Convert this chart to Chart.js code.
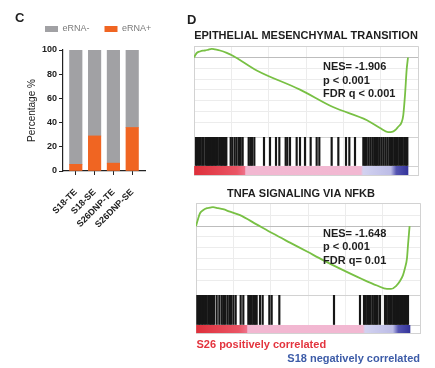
<!DOCTYPE html>
<html><head><meta charset="utf-8">
<script src="https://cdn.jsdelivr.net/npm/chart.js@4.4.1/dist/chart.umd.min.js"></script>
<style>
html,body{margin:0;padding:0;background:#fff;}
body{width:435px;height:368px;position:relative;overflow:hidden;font-family:"Liberation Sans",Arial,Helvetica,sans-serif;}
canvas{position:absolute;}
.t{position:absolute;white-space:nowrap;font-weight:bold;color:#1e1e1e;}
</style></head><body>
<canvas id="cBar" width="198" height="240" style="left:0;top:0"></canvas>
<canvas id="emtCurve" width="226" height="111" style="left:193px;top:27px"></canvas>
<canvas id="emtHits" width="226" height="31" style="left:193px;top:136px"></canvas>
<canvas id="emtRank" width="226" height="11" style="left:193px;top:165px"></canvas>
<canvas id="tnfaCurve" width="240" height="111" style="left:181px;top:185px"></canvas>
<canvas id="tnfaHits" width="226" height="32" style="left:195px;top:294px"></canvas>
<canvas id="tnfaRank" width="226" height="10" style="left:195px;top:324px"></canvas>

<div class="t" style="left:15px;top:11px;font-size:13px;line-height:13px;">C</div>
<div class="t" style="left:187px;top:12.5px;font-size:13px;line-height:13px;">D</div>
<div class="t" style="left:323px;top:60px;font-size:11px;line-height:13.5px;">NES= -1.906<br>p &lt; 0.001<br>FDR q &lt; 0.001</div>
<div class="t" style="left:323px;top:226.5px;font-size:11px;line-height:13.5px;">NES= -1.648<br>p &lt; 0.001<br>FDR q= 0.01</div>
<div class="t" style="left:196.5px;top:337.5px;font-size:11px;line-height:13px;color:#e3343e;">S26 positively correlated</div>
<div class="t" style="right:15px;top:351.5px;font-size:11px;line-height:13px;color:#3d5ca8;">S18 negatively correlated</div>

<script>
// ---------- Panel C data ----------
const categories = ['S18-TE', 'S18-SE', 'S26DNP-TE', 'S26DNP-SE'];
const ernaPos = [5.5, 29, 6.5, 36];
const ernaNeg = [94.5, 71, 93.5, 64];
const pctTicks = [0, 20, 40, 60, 80, 100];

// ---------- Panel D data ----------
const listLength = 26750;
const emtTitle = 'EPITHELIAL MESENCHYMAL TRANSITION';
const emtRank = [0, 190, 375, 750, 1125, 1375, 1750, 2210, 2625, 3250, 4090, 4910, 7840, 13250, 17375, 21625, 23250, 24250, 24750, 25125, 25500, 25960, 26160, 26375, 26590, 26750];
const emtES = [0, 0.026, 0.044, 0.056, 0.063, 0.065, 0.072, 0.081, 0.075, 0.065, 0.043, 0.014, -0.12, -0.298, -0.46, -0.583, -0.655, -0.692, -0.69, -0.676, -0.645, -0.6, -0.534, -0.349, -0.106, 0];
const emtHits = [250, 417, 625, 833, 1042, 1208, 1458, 1625, 1792, 1917, 2083, 2250, 2417, 2583, 2750, 2958, 3167, 3375, 3542, 3708, 3875, 4042,
  4583, 4792, 5083, 5333, 5625, 5833, 6083, 6833, 7042, 7250, 7542, 8750, 9500, 10250, 10667, 11458, 11667, 12000, 12833, 13250, 13875, 14583,
  15333, 15667, 17208, 18042, 19000, 19417, 20125,
  21167, 21375, 21583, 21833, 22083, 22333, 22542, 22750, 22958, 23167, 23417, 23667, 23917, 24167, 24417, 24625, 24833, 25042, 25250,
  25458, 25667, 25875, 26083, 26292, 26500, 26667];

const tnfaTitle = 'TNFA SIGNALING VIA NFKB';
const tnfaRank = [0, 250, 500, 875, 1375, 1750, 2125, 2750, 3375, 4250, 5500, 7625, 9625, 11750, 13875, 15875, 18000, 20875, 22625, 23875, 24375, 25000, 25500, 25875, 26125, 26375, 26500, 26700];
const tnfaES = [0, 0.065, 0.12, 0.148, 0.167, 0.171, 0.176, 0.167, 0.157, 0.134, 0.102, 0.014, -0.069, -0.153, -0.236, -0.315, -0.394, -0.495, -0.551, -0.583, -0.583, -0.556, -0.509, -0.454, -0.389, -0.296, -0.176, 0];
const tnfaHits = [167, 375, 542, 750, 917, 1125, 1333, 1542, 1750, 1917, 2083, 2250, 2583, 2917, 3208, 3417, 3625, 3917, 4167, 4375, 4667, 4958,
  5583, 5917, 6542, 6750, 6958, 7167, 7375, 7583, 8000, 8333, 9167, 9458, 10417, 17250, 20500,
  21000, 21208, 21417, 21625, 21833, 22083, 22292, 22500, 22708, 23000, 23625, 23833, 24042, 24250, 24458, 24667, 24833, 25000,
  25167, 25333, 25500, 25667, 25833, 26000, 26167, 26333, 26500];

// ---------- styles ----------
Chart.defaults.font.family = '"Liberation Sans", Arial, Helvetica, sans-serif';
const rankStops = [[0, '#de2f3a'], [0.2, '#ea5565'], [0.236, '#ee7088'], [0.242, '#f2b7d1'], [0.78, '#f2b8d2'], [0.79, '#d2d2f0'], [0.92, '#bcbce6'], [0.945, '#5555b2'], [1, '#34349a']];
const X_MAX = 28000;
const base = {responsive: false, animation: false, events: []};

// ---------- Panel C ----------
new Chart(document.getElementById('cBar'), {
  type: 'bar',
  data: {datasets: [
    {label: 'eRNA+', data: categories.map((c, i) => ({x: i, y: ernaPos[i]})), backgroundColor: '#f06522', barThickness: 12.5, grouped: false},
    {label: 'eRNA-', data: categories.map((c, i) => ({x: i, y: ernaNeg[i]})), backgroundColor: '#a1a1a4', barThickness: 12.5, grouped: false}
  ]},
  options: Object.assign({}, base, {
    layout: {padding: {left: 30, top: 9.5, right: 0, bottom: 0}},
    plugins: {
      legend: {display: true, position: 'top', align: 'start', reverse: true,
        labels: {boxWidth: 13, boxHeight: 6, padding: 15, color: '#7a7a7a', font: {size: 9}}},
      title: {display: true, text: '', weight: 500, padding: 0, font: {size: 6.5, lineHeight: 1}},
      tooltip: {enabled: false}
    },
    scales: {
      x: {type: 'linear', min: -0.68, max: 3.68, stacked: true, offset: false,
        afterBuildTicks: s => { s.ticks = categories.map((c, i) => ({value: i})); },
        ticks: {callback: v => categories[v], maxRotation: 45, minRotation: 45, autoSkip: false, color: '#222', font: {size: 9, weight: 'bold'}, padding: 12},
        grid: {display: true, drawOnChartArea: false, drawTicks: true, tickLength: 4, color: '#222', offset: false},
        border: {color: '#222', width: 1.2},
        afterFit: s => { s.height = 69; }},
      y: {min: 0, max: 100, stacked: true,
        afterBuildTicks: s => { s.ticks = pctTicks.map(v => ({value: v})); },
        ticks: {color: '#222', font: {size: 9, weight: 'bold'}, padding: 2},
        grid: {display: true, drawOnChartArea: false, drawTicks: true, tickLength: 4, color: '#222'},
        border: {color: '#222', width: 1.2},
        title: {display: true, text: 'Percentage %', color: '#222', font: {size: 10}, padding: {top: -4, bottom: 0}},
        afterFit: s => { s.width = 33; }},
      yRight: {position: 'right', display: true, min: 0, max: 100,
        ticks: {display: false}, grid: {display: false, drawTicks: false}, border: {display: false},
        afterFit: s => { s.width = 53; }}
    }
  })
});

// ---------- Panel D ----------
function gsea(ids, title, ranks, es, hits, ymin, ymax, yw, padBottom) {
  const gridColor = ctx => {
    const v = ctx.tick.value;
    if (Math.abs(v) < 1e-9) return '#bdbdbd';
    if (v === ymin || v === ymax) return '#d2d2d2';
    return '#ececec';
  };
  new Chart(document.getElementById(ids[0]), {
    type: 'line',
    data: {datasets: [{data: ranks.map((r, i) => ({x: r, y: es[i]})), borderColor: '#78c044', borderWidth: 1.8,
      pointRadius: 0, cubicInterpolationMode: 'monotone', fill: false}]},
    options: Object.assign({}, base, {
      layout: {padding: {left: 1, right: 1, top: 0, bottom: 1}},
      plugins: {legend: {display: false}, tooltip: {enabled: false},
        title: {display: true, text: title, color: '#1e1e1e', font: {size: 11, weight: 'bold', lineHeight: 1.2}, padding: {top: 2, bottom: padBottom}}},
      scales: {
        x: {type: 'linear', min: 0, max: X_MAX, ticks: {display: false, stepSize: 5000},
          grid: {color: ctx => (ctx.tick.value === 0 || ctx.tick.value === X_MAX) ? '#d2d2d2' : '#ececec', drawTicks: false}, border: {color: '#d2d2d2'}},
        y: {type: 'linear', min: ymin, max: ymax, ticks: {display: false, stepSize: 0.1},
          grid: {color: gridColor, drawTicks: false}, border: {color: '#d2d2d2'},
          afterFit: s => { s.width = yw; }}
      }
    })
  });
  new Chart(document.getElementById(ids[1]), {
    type: 'bar',
    data: {datasets: [{data: hits.map(r => ({x: r, y: 1})), backgroundColor: '#161616', barThickness: 1.5, grouped: false}]},
    options: Object.assign({}, base, {
      layout: {padding: 1},
      plugins: {legend: {display: false}, tooltip: {enabled: false}},
      scales: {
        x: {type: 'linear', min: 0, max: X_MAX, offset: false, ticks: {display: false, stepSize: 5000},
          grid: {offset: false, drawTicks: false, color: ctx => (ctx.tick.value === 0 || ctx.tick.value === X_MAX) ? '#d2d2d2' : '#f0f0f0'}, border: {color: '#d2d2d2'}},
        y: {min: 0, max: 1, ticks: {display: false, stepSize: 1}, grid: {drawTicks: false, color: '#d2d2d2'}, border: {color: '#d2d2d2'}}
      }
    })
  });
  new Chart(document.getElementById(ids[2]), {
    type: 'bar',
    data: {labels: ['rank'], datasets: [{data: [[0, listLength]], barPercentage: 1, categoryPercentage: 1, borderWidth: 0,
      backgroundColor: ctx => {
        const ch = ctx.chart;
        if (!ch.chartArea) return '#f2b7d1';
        const xs = ch.scales.x;
        const g = ch.ctx.createLinearGradient(xs.getPixelForValue(0), 0, xs.getPixelForValue(listLength), 0);
        rankStops.forEach(([o, c]) => g.addColorStop(o, c));
        return g;
      }}]},
    options: Object.assign({}, base, {
      indexAxis: 'y',
      layout: {padding: 1},
      plugins: {legend: {display: false}, tooltip: {enabled: false}},
      scales: {
        x: {type: 'linear', min: 0, max: X_MAX, ticks: {display: false, stepSize: X_MAX}, grid: {drawTicks: false, color: '#d2d2d2'}, border: {color: '#d2d2d2'}},
        y: {ticks: {display: false}, grid: {drawTicks: false, color: '#d2d2d2'}, border: {color: '#d2d2d2'}}
      }
    })
  });
}

gsea(['emtCurve', 'emtHits', 'emtRank'], emtTitle, emtRank, emtES, emtHits, -0.738, 0.105, 0, 4);
gsea(['tnfaCurve', 'tnfaHits', 'tnfaRank'], tnfaTitle, tnfaRank, tnfaES, tnfaHits, -0.639, 0.213, 14, 3);
</script>
</body></html>
